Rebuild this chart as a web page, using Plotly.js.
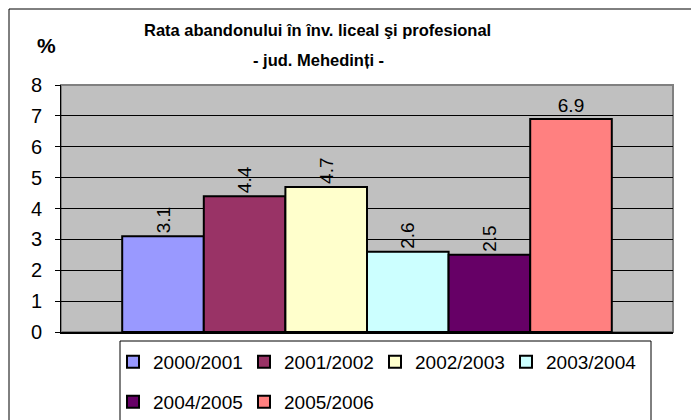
<!DOCTYPE html>
<html>
<head>
<meta charset="utf-8">
<script src="https://cdn.plot.ly/plotly-3.0.1.min.js"></script>
<style>
html,body{margin:0;padding:0;background:#fff;}
#chart{width:691px;height:420px;}
</style>
</head>
<body>
<div id="chart"></div>
<script>
const seriesNames = ["2000/2001","2001/2002","2002/2003","2003/2004","2004/2005","2005/2006"];
const values = [3.1, 4.4, 4.7, 2.6, 2.5, 6.9];
const colors = ["#9999FF","#993366","#FFFFCC","#CCFFFF","#660066","#FF8080"];
const category = ["Mehedinți"];
const titleLine1 = "Rata abandonului în înv. liceal şi profesional";
const titleLine2 = "- jud. Mehedinți -";
const yUnit = "%";
const yTicks = [0,1,2,3,4,5,6,7,8];

const FONT = "Liberation Sans, Arial, sans-serif";

const traces = seriesNames.map((name, i) => ({
  type: "bar",
  name: name,
  x: category,
  y: [values[i]],
  text: [String(values[i])],
  textposition: "outside",
  textangle: i === 5 ? 0 : -90,
  constraintext: "none",
  cliponaxis: false,
  textfont: {family: FONT, size: 19, color: "#000"},
  marker: {color: colors[i], line: {color: "#000", width: 2}},
  legend: i < 4 ? "legend" : "legend2",
  hoverinfo: "skip"
}));

const L = 61, R = 673, T = 85, B = 332;
const W = 691, H = 420;
const px = x => (x - L) / (R - L);
const py = y => (B - y) / (B - T);

const legendCommon = {
  orientation: "h",
  xref: "container",
  yref: "container",
  xanchor: "left",
  yanchor: "middle",
  bgcolor: "rgba(0,0,0,0)",
  borderwidth: 0,
  entrywidth: 86,
  entrywidthmode: "pixels",
  font: {family: FONT, size: 19, color: "#000"},
  traceorder: "normal"
};

const layout = {
  width: W, height: H,
  margin: {l: L, r: W - R, t: T, b: H - B, pad: 0, autoexpand: false},
  paper_bgcolor: "#fff",
  plot_bgcolor: "#C0C0C0",
  barmode: "group",
  bargap: 0.2,
  bargroupgap: 0,
  showlegend: true,
  legend: Object.assign({}, legendCommon, {x: 113 / W, y: 1 - 362 / H}),
  legend2: Object.assign({}, legendCommon, {x: 113 / W, y: 1 - 402 / H}),
  xaxis: {
    type: "category",
    showticklabels: false,
    ticks: "",
    showline: true, linecolor: "#000", linewidth: 2,
    showgrid: false, zeroline: false,
    fixedrange: true
  },
  yaxis: {
    range: [0, 8],
    tickvals: yTicks,
    ticktext: yTicks.map(String),
    ticks: "outside", ticklen: 5, tickcolor: "#000", tickwidth: 1,
    ticklabelstandoff: 9,
    showline: true, linecolor: "#000", linewidth: 1,
    showgrid: true, gridcolor: "#000", gridwidth: 1,
    zeroline: false,
    tickfont: {family: FONT, size: 20, color: "#000"},
    fixedrange: true
  },
  shapes: [
    {type: "rect", xref: "paper", yref: "paper", x0: 0, x1: 1, y0: 0, y1: 1,
     line: {color: "#808080", width: 2}, fillcolor: "rgba(0,0,0,0)", layer: "below"},
    {type: "rect", xref: "paper", yref: "paper", x0: px(120), x1: px(651), y0: py(341), y1: py(440),
     line: {color: "#000", width: 1}, fillcolor: "rgba(0,0,0,0)"},
    {type: "rect", xref: "paper", yref: "paper", x0: px(9), x1: px(700), y0: py(9), y1: py(440),
     line: {color: "#000", width: 1}, fillcolor: "rgba(0,0,0,0)"}
  ],
  annotations: [
    {xref: "paper", yref: "paper", x: px(317), y: py(30), text: "<b>" + titleLine1 + "</b>",
     showarrow: false, xanchor: "center", yanchor: "middle",
     font: {family: FONT, size: 16.5, color: "#000"}},
    {xref: "paper", yref: "paper", x: px(318), y: py(60), text: "<b>" + titleLine2 + "</b>",
     showarrow: false, xanchor: "center", yanchor: "middle",
     font: {family: FONT, size: 16.5, color: "#000"}},
    {xref: "paper", yref: "paper", x: px(46), y: py(46), text: "<b>" + yUnit + "</b>",
     showarrow: false, xanchor: "center", yanchor: "middle",
     font: {family: FONT, size: 21, color: "#000"}}
  ]
};

Plotly.newPlot("chart", traces, layout, {displayModeBar: false, staticPlot: true});
</script>
</body>
</html>
